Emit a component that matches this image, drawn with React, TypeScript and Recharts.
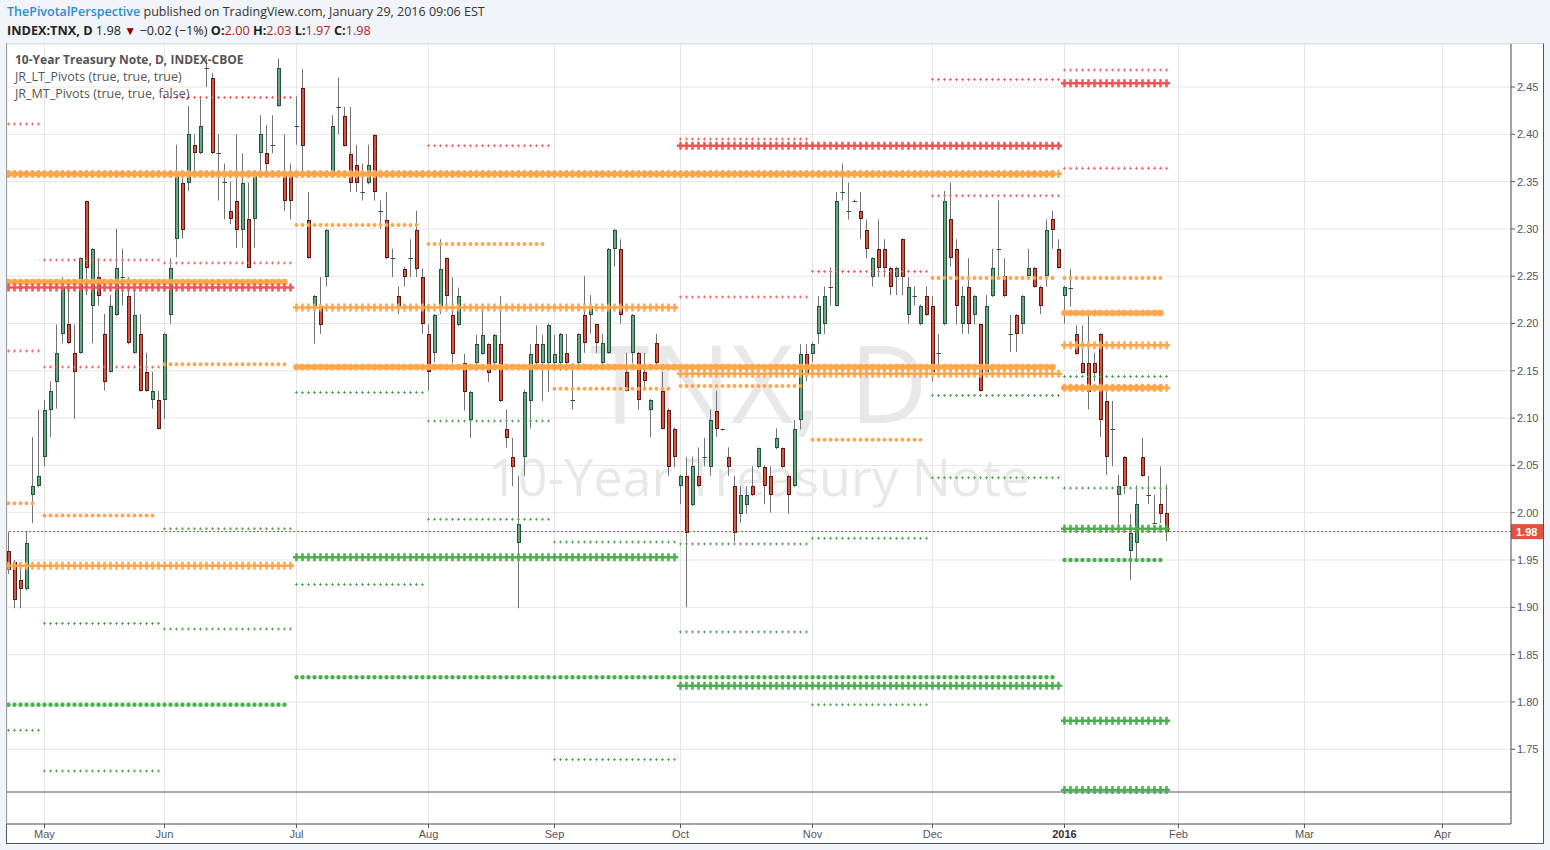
import React from 'react'
import { ComposedChart, Bar, XAxis, YAxis, CartesianGrid, ReferenceLine } from 'recharts'

// daily bars of INDEX:TNX, bar 0 = Apr 23 2015, last bar = Jan 29 2016
const OPEN = [
  1.959, 1.948, 1.929, 1.919, 2.019, 2.028, 2.059, 2.109, 2.138, 2.189,
  2.199, 2.169, 2.169, 2.33, 2.219, 2.249, 2.189, 2.149, 2.209, 2.249,
  2.229, 2.169, 2.189, 2.149, 2.119, 2.119, 2.119, 2.209, 2.289, 2.349,
  2.349, 2.389, 2.38, 2.47, 2.46, 2.38, 2.35, 2.319, 2.33, 2.299,
  2.31, 2.31, 2.38, 2.38, 2.389, 2.43, 2.359, 2.359, 2.409, 2.449,
  2.309, 2.218, 2.218, 2.249, 2.359, 2.429, 2.419, 2.379, 2.368, 2.339,
  2.348, 2.399, 2.319, 2.309, 2.269, 2.229, 2.258, 2.269, 2.299, 2.249,
  2.189, 2.169, 2.218, 2.269, 2.209, 2.198, 2.158, 2.098, 2.158, 2.168,
  2.178, 2.158, 2.178, 2.088, 2.059, 1.968, 2.059, 2.118, 2.178, 2.158,
  2.158, 2.158, 2.158, 2.169, 2.119, 2.158, 2.209, 2.209, 2.199, 2.158,
  2.169, 2.279, 2.279, 2.149, 2.169, 2.169, 2.149, 2.109, 2.179, 2.129,
  2.109, 2.089, 2.028, 2.039, 2.008, 2.039, 2.059, 2.048, 2.108, 2.088,
  2.059, 2.028, 1.999, 2.008, 2.028, 2.048, 2.048, 2.039, 2.068, 2.068,
  2.039, 2.028, 2.098, 2.168, 2.168, 2.189, 2.199, 2.239, 2.219, 2.339,
  2.319, 2.33, 2.319, 2.299, 2.249, 2.279, 2.279, 2.259, 2.249, 2.289,
  2.209, 2.229, 2.199, 2.229, 2.219, 2.169, 2.199, 2.31, 2.279, 2.199,
  2.239, 2.209, 2.199, 2.149, 2.229, 2.279, 2.25, 2.189, 2.209, 2.199,
  2.25, 2.259, 2.239, 2.25, 2.31, 2.279, 2.229, 2.238, 2.189, 2.158,
  2.158, 2.158, 2.189, 2.118, 2.089, 2.019, 2.059, 1.959, 1.968, 2.059,
  2.019, 1.989, 2.009, 2.0,
]
const HIGH = [
  1.98, 1.95, 1.94, 1.98, 2.08, 2.109, 2.119, 2.139, 2.199, 2.249,
  2.239, 2.199, 2.27, 2.33, 2.28, 2.269, 2.21, 2.23, 2.30, 2.279,
  2.249, 2.239, 2.21, 2.169, 2.149, 2.129, 2.19, 2.269, 2.389, 2.36,
  2.43, 2.40, 2.44, 2.48, 2.465, 2.40, 2.369, 2.35, 2.40, 2.38,
  2.349, 2.36, 2.42, 2.41, 2.42, 2.48, 2.40, 2.369, 2.44, 2.469,
  2.339, 2.23, 2.249, 2.30, 2.42, 2.46, 2.429, 2.429, 2.389, 2.369,
  2.389, 2.40, 2.33, 2.339, 2.279, 2.239, 2.26, 2.289, 2.319, 2.258,
  2.199, 2.21, 2.289, 2.27, 2.249, 2.238, 2.168, 2.129, 2.188, 2.218,
  2.179, 2.189, 2.229, 2.109, 2.079, 2.039, 2.13, 2.178, 2.198, 2.188,
  2.20, 2.188, 2.19, 2.189, 2.158, 2.19, 2.25, 2.23, 2.20, 2.189,
  2.28, 2.30, 2.289, 2.169, 2.21, 2.17, 2.169, 2.12, 2.189, 2.149,
  2.11, 2.09, 2.04, 2.059, 2.059, 2.069, 2.079, 2.109, 2.129, 2.089,
  2.069, 2.039, 2.028, 2.028, 2.049, 2.069, 2.05, 2.049, 2.089, 2.069,
  2.04, 2.098, 2.178, 2.178, 2.18, 2.229, 2.239, 2.259, 2.339, 2.369,
  2.349, 2.331, 2.339, 2.31, 2.27, 2.31, 2.289, 2.26, 2.26, 2.29,
  2.249, 2.239, 2.22, 2.239, 2.229, 2.189, 2.34, 2.349, 2.289, 2.239,
  2.269, 2.23, 2.20, 2.23, 2.279, 2.33, 2.269, 2.209, 2.21, 2.23,
  2.279, 2.26, 2.24, 2.31, 2.319, 2.289, 2.24, 2.258, 2.198, 2.198,
  2.209, 2.169, 2.19, 2.128, 2.118, 2.04, 2.06, 1.999, 2.029, 2.079,
  2.039, 2.019, 2.049, 2.03,
]
const LOW = [
  1.935, 1.899, 1.899, 1.918, 1.989, 2.027, 2.049, 2.08, 2.11, 2.179,
  2.178, 2.099, 2.168, 2.23, 2.179, 2.219, 2.129, 2.148, 2.208, 2.219,
  2.178, 2.168, 2.128, 2.128, 2.11, 2.088, 2.099, 2.20, 2.27, 2.29,
  2.34, 2.359, 2.379, 2.45, 2.379, 2.33, 2.31, 2.305, 2.28, 2.28,
  2.259, 2.28, 2.359, 2.359, 2.38, 2.429, 2.319, 2.31, 2.389, 2.361,
  2.268, 2.179, 2.189, 2.239, 2.358, 2.40, 2.387, 2.339, 2.339, 2.33,
  2.347, 2.33, 2.30, 2.268, 2.249, 2.21, 2.239, 2.249, 2.249, 2.189,
  2.129, 2.159, 2.21, 2.218, 2.158, 2.197, 2.108, 2.079, 2.15, 2.167,
  2.138, 2.157, 2.117, 2.069, 2.028, 1.899, 2.039, 2.089, 2.157, 2.118,
  2.128, 2.15, 2.15, 2.15, 2.109, 2.157, 2.169, 2.189, 2.169, 2.157,
  2.168, 2.26, 2.20, 2.128, 2.158, 2.109, 2.129, 2.08, 2.157, 2.088,
  2.039, 2.048, 2.009, 1.90, 2.007, 2.027, 2.049, 2.039, 2.08, 2.087,
  2.039, 1.969, 1.989, 1.999, 2.018, 2.047, 2.009, 2.0, 2.067, 2.047,
  1.999, 2.027, 2.088, 2.139, 2.159, 2.179, 2.189, 2.219, 2.218, 2.33,
  2.31, 2.329, 2.289, 2.269, 2.239, 2.249, 2.249, 2.23, 2.23, 2.23,
  2.20, 2.219, 2.198, 2.208, 2.139, 2.149, 2.198, 2.26, 2.199, 2.189,
  2.189, 2.199, 2.128, 2.148, 2.228, 2.25, 2.228, 2.17, 2.17, 2.189,
  2.249, 2.238, 2.21, 2.239, 2.279, 2.258, 2.20, 2.218, 2.167, 2.147,
  2.109, 2.139, 2.08, 2.04, 2.049, 1.98, 2.02, 1.929, 1.95, 2.038,
  2.009, 1.988, 1.989, 1.97,
]
const CLOSE = [
  1.939, 1.908, 1.919, 1.968, 2.028, 2.039, 2.109, 2.129, 2.169, 2.239,
  2.179, 2.149, 2.269, 2.259, 2.279, 2.229, 2.138, 2.219, 2.259, 2.249,
  2.179, 2.209, 2.129, 2.129, 2.129, 2.089, 2.189, 2.259, 2.359, 2.299,
  2.40, 2.38, 2.409, 2.47, 2.38, 2.38, 2.35, 2.31, 2.299, 2.349,
  2.259, 2.359, 2.40, 2.369, 2.389, 2.47, 2.33, 2.33, 2.409, 2.388,
  2.269, 2.229, 2.198, 2.299, 2.409, 2.429, 2.388, 2.348, 2.348, 2.339,
  2.368, 2.339, 2.319, 2.269, 2.269, 2.218, 2.249, 2.269, 2.258, 2.199,
  2.149, 2.209, 2.258, 2.229, 2.168, 2.229, 2.128, 2.128, 2.178, 2.188,
  2.148, 2.188, 2.118, 2.079, 2.048, 1.988, 2.128, 2.168, 2.158, 2.178,
  2.198, 2.168, 2.189, 2.158, 2.119, 2.189, 2.179, 2.219, 2.179, 2.179,
  2.279, 2.299, 2.209, 2.129, 2.209, 2.119, 2.139, 2.119, 2.158, 2.089,
  2.048, 2.059, 2.039, 1.979, 2.049, 2.028, 2.059, 2.098, 2.088, 2.088,
  2.048, 1.979, 2.019, 2.019, 2.019, 2.068, 2.028, 2.019, 2.079, 2.048,
  2.019, 2.088, 2.168, 2.148, 2.178, 2.219, 2.229, 2.239, 2.33, 2.339,
  2.319, 2.33, 2.31, 2.279, 2.269, 2.259, 2.259, 2.239, 2.259, 2.249,
  2.239, 2.229, 2.219, 2.209, 2.149, 2.169, 2.33, 2.269, 2.219, 2.229,
  2.199, 2.229, 2.129, 2.219, 2.259, 2.279, 2.229, 2.189, 2.189, 2.229,
  2.259, 2.239, 2.219, 2.299, 2.299, 2.259, 2.239, 2.238, 2.168, 2.148,
  2.128, 2.148, 2.098, 2.059, 2.089, 2.028, 2.028, 1.979, 2.009, 2.039,
  2.019, 1.989, 1.999, 1.98,
]

// pivot levels: [first bar, last bar, price]
const ORANGE_CROSS = [[0, 175, 2.358], [0, 47, 1.944], [48, 111, 2.217], [112, 175, 2.147], [176, 193, 2.177], [176, 193, 2.132]]
const RED_CROSS = [[0, 47, 2.238], [112, 175, 2.388], [176, 193, 2.454]]
const GREEN_CROSS = [[48, 111, 1.953], [112, 175, 1.817], [176, 193, 1.983], [176, 193, 1.78], [176, 193, 1.707]]
const ORANGE_BIG = [[0, 175, 2.358], [0, 47, 2.244], [48, 175, 2.154], [176, 193, 2.211], [176, 193, 2.132]]
const GREEN_BIG = [[0, 47, 1.797], [48, 175, 1.826], [176, 193, 1.95]]
const ORANGE_MED = [
  [0, 5, 2.01], [6, 25, 1.997], [26, 47, 2.157], [48, 69, 2.304], [70, 90, 2.284],
  [91, 111, 2.131], [112, 133, 2.134], [134, 153, 2.077], [154, 175, 2.248], [176, 193, 2.248],
]
const RED_SMALL = [
  [0, 5, 2.411], [0, 5, 2.171], [6, 25, 2.267], [6, 25, 2.154], [26, 47, 2.439], [26, 47, 2.264],
  [70, 90, 2.388], [112, 133, 2.395], [112, 133, 2.228], [134, 153, 2.255], [154, 175, 2.458],
  [154, 175, 2.335], [176, 193, 2.468], [176, 193, 2.364],
]
const GREEN_SMALL = [
  [0, 5, 1.77], [6, 25, 1.883], [6, 25, 1.727], [26, 47, 1.983], [26, 47, 1.877], [48, 69, 2.127],
  [48, 69, 1.924], [70, 90, 2.097], [70, 90, 1.993], [91, 111, 1.969], [91, 111, 1.739],
  [112, 133, 1.967], [112, 133, 1.874], [134, 153, 1.973], [134, 153, 1.797], [154, 175, 2.124],
  [154, 175, 2.037], [176, 193, 2.144], [176, 193, 2.026],
]

const MONTH_TICKS = [6, 26, 48, 70, 91, 112, 134, 154, 176, 195, 216, 239]
const MONTH_LABELS = ['May', 'Jun', 'Jul', 'Aug', 'Sep', 'Oct', 'Nov', 'Dec', '2016', 'Feb', 'Mar', 'Apr']
const PRICE_TICKS = [1.75, 1.8, 1.85, 1.9, 1.95, 2.0, 2.05, 2.1, 2.15, 2.2, 2.25, 2.3, 2.35, 2.4, 2.45]

const ORANGE = '#ffa64d'
const RED = '#f05454'
const GREEN = '#4caf50'
const AXIS_FONT = '"Liberation Sans", Arial, sans-serif'

const bars = OPEN.map((o, i) => ({ i, o, h: HIGH[i], l: LOW[i], c: CLOSE[i], range: [LOW[i], HIGH[i]] }))
const last = CLOSE[CLOSE.length - 1]

function Candle(props: any) {
  const { x, y, width, height, payload } = props
  const { o, h, l, c } = payload
  const cx = Math.floor(x + width / 2) + 0.5
  const span = h - l
  const py = (v: number) => y + (span > 0 ? ((h - v) / span) * height : 0)
  const wick = <line x1={cx} x2={cx} y1={py(h)} y2={py(l)} stroke="#737375" strokeWidth={1} />
  if (Math.abs(o - c) < 0.002) {
    const yy = Math.round(py(o)) + 0.5
    return (
      <g>
        {wick}
        <line x1={cx - 2} x2={cx + 2.5} y1={yy} y2={yy} stroke="#225437" strokeWidth={1} />
      </g>
    )
  }
  const up = c > o
  const top = Math.round(py(Math.max(o, c)))
  const bot = Math.round(py(Math.min(o, c)))
  return (
    <g>
      {wick}
      <rect
        x={cx - 1}
        y={top + 0.5}
        width={3}
        height={Math.max(bot - top - 1, 1)}
        fill={up ? '#6ba583' : '#d75442'}
        stroke={up ? '#225437' : '#5b1a13'}
        strokeWidth={1}
      />
    </g>
  )
}

function MonthTick(props: any) {
  const { x, y, payload } = props
  const label = MONTH_LABELS[MONTH_TICKS.indexOf(payload.value)]
  const year = label === '2016'
  return (
    <text x={x} y={y} dy="0.71em" textAnchor="middle" fontSize={11} fontFamily={AXIS_FONT}
      fill={year ? '#333' : '#555'} fontWeight={year ? 700 : 400}>
      {label}
    </text>
  )
}

function PriceTag(props: any) {
  const vb = props.viewBox || {}
  const yy = (vb.y || 0) + (vb.height || 0) / 2
  const xx = (vb.x || 0) + (vb.width || 0)
  return (
    <g>
      <rect x={xx} y={yy - 7.5} width={32} height={15} fill="#e0533e" />
      <text x={xx + 5} y={yy + 4} fill="#fff" fontSize={11} fontWeight={700} fontFamily={AXIS_FONT}>
        {last.toFixed(2)}
      </text>
    </g>
  )
}

const crosses = (list: number[][], color: string, key: string) =>
  list.flatMap(([s, e, p], k) => [
    <ReferenceLine key={`${key}h${k}`} segment={[{ x: s - 0.6, y: p }, { x: e + 0.6, y: p }]}
      stroke={color} strokeWidth={2.5} ifOverflow="hidden" />,
    <ReferenceLine key={`${key}v${k}`} segment={[{ x: s - 0.21, y: p }, { x: e + 0.21, y: p }]}
      stroke={color} strokeWidth={8} strokeDasharray="2.5 3.5" ifOverflow="hidden" />,
  ])

const dots = (list: number[][], color: string, size: number, key: string) =>
  list.map(([s, e, p], k) => (
    <ReferenceLine key={`${key}${k}`} segment={[{ x: s, y: p }, { x: e, y: p }]} stroke={color}
      strokeWidth={size} strokeDasharray="0 6" strokeLinecap="round" ifOverflow="hidden" />
  ))

const smallCrosses = (list: number[][], color: string, key: string) =>
  list.flatMap(([s, e, p], k) => [
    <ReferenceLine key={`${key}h${k}`} segment={[{ x: s - 0.25, y: p }, { x: e + 0.25, y: p }]}
      stroke={color} strokeWidth={1} strokeDasharray="3 3" ifOverflow="hidden" />,
    <ReferenceLine key={`${key}v${k}`} segment={[{ x: s - 1 / 12, y: p }, { x: e + 1 / 12, y: p }]}
      stroke={color} strokeWidth={3} strokeDasharray="1 5" ifOverflow="hidden" />,
  ])

export default function App() {
  return (
    <div style={{ position: 'absolute', left: 0, top: 0, width: 1550, height: 850, background: '#f1f4f8',
      fontFamily: '"Open Sans", sans-serif', overflow: 'hidden' }}>
      <div style={{ position: 'absolute', left: 7, top: 3, fontSize: 12.5, lineHeight: '18px', color: '#333', whiteSpace: 'nowrap' }}>
        <span style={{ color: '#2a8bd5', fontWeight: 600 }}>ThePivotalPerspective</span> published on TradingView.com, January 29, 2016 09:06 EST
      </div>
      <div style={{ position: 'absolute', left: 7, top: 21, fontSize: 12.7, lineHeight: '18px', color: '#222', whiteSpace: 'nowrap' }}>
        <b>INDEX:TNX, D</b> 1.98 <span style={{ color: '#8b0000', fontSize: 12 }}>▼</span> −0.02 (−1%){' '}
        <b>O:</b><span style={{ color: '#b01e1e' }}>2.00</span> <b>H:</b><span style={{ color: '#b01e1e' }}>2.03</span>{' '}
        <b>L:</b><span style={{ color: '#b01e1e' }}>1.97</span> <b>C:</b><span style={{ color: '#b01e1e' }}>1.98</span>
      </div>

      <div style={{ position: 'absolute', left: 6, top: 43, width: 1538, height: 801, boxSizing: 'border-box',
        background: '#fff', borderLeft: '1px solid #555', borderRight: '1px solid #555',
        borderBottom: '1px solid #555', borderTop: '1px solid #cfd3d8' }} />

      <svg width={1550} height={850} style={{ position: 'absolute', left: 0, top: 0 }}>
        <text x={759} y={423} textAnchor="middle" fontSize={108} fill="#e8e8e8" fontFamily='"Open Sans", sans-serif'>TNX, D</text>
        <text x={759} y={496} textAnchor="middle" fontSize={52} fill="#e8e8e8" fontFamily='"Open Sans", sans-serif'>10-Year Treasury Note</text>
      </svg>

      <div style={{ position: 'absolute', left: 0, top: 0 }}>
        <ComposedChart width={1550} height={850} data={bars} margin={{ top: 44, right: 7, bottom: 7, left: 7 }}>
          <CartesianGrid stroke="#e6e6e6" />
          <XAxis type="number" dataKey="i" domain={[-0.25, 250.4167]} allowDataOverflow ticks={MONTH_TICKS}
            interval={0} height={19} tickSize={4} tick={<MonthTick />}
            axisLine={{ stroke: '#555' }} tickLine={{ stroke: '#555' }} />
          <YAxis orientation="right" domain={[1.670935, 2.495455]} allowDataOverflow ticks={PRICE_TICKS}
            interval={0} width={32} tickSize={4} tickFormatter={(v: number) => v.toFixed(2)}
            tick={{ fill: '#555', fontSize: 11, fontFamily: AXIS_FONT }}
            axisLine={{ stroke: '#555' }} tickLine={{ stroke: '#555' }} />
          <ReferenceLine y={1.704757} stroke="#555" strokeWidth={1} />
          <Bar dataKey="range" barSize={4} shape={<Candle />} isAnimationActive={false} />
          {dots(ORANGE_BIG, ORANGE, 6.5, 'ob')}
          {dots(GREEN_BIG, GREEN, 4.5, 'gb')}
          {dots(ORANGE_MED, ORANGE, 4, 'om')}
          {crosses(ORANGE_CROSS, ORANGE, 'oc')}
          {crosses(RED_CROSS, RED, 'rc')}
          {crosses(GREEN_CROSS, GREEN, 'gc')}
          {smallCrosses(RED_SMALL, '#ee6b6b', 'rs')}
          {smallCrosses(GREEN_SMALL, '#5fa85f', 'gs')}
          <ReferenceLine y={last} stroke="#d9412f" strokeDasharray="2 2" strokeWidth={1} label={<PriceTag />} />
        </ComposedChart>
      </div>

      <div style={{ position: 'absolute', left: 15, top: 51, fontSize: 12.5, lineHeight: '17px', color: '#555', whiteSpace: 'nowrap' }}>
        <div style={{ fontWeight: 700, fontSize: 12 }}>10-Year Treasury Note, D, INDEX-CBOE</div>
        <div>JR_LT_Pivots (true, true, true)</div>
        <div>JR_MT_Pivots (true, true, false)</div>
      </div>
    </div>
  )
}
